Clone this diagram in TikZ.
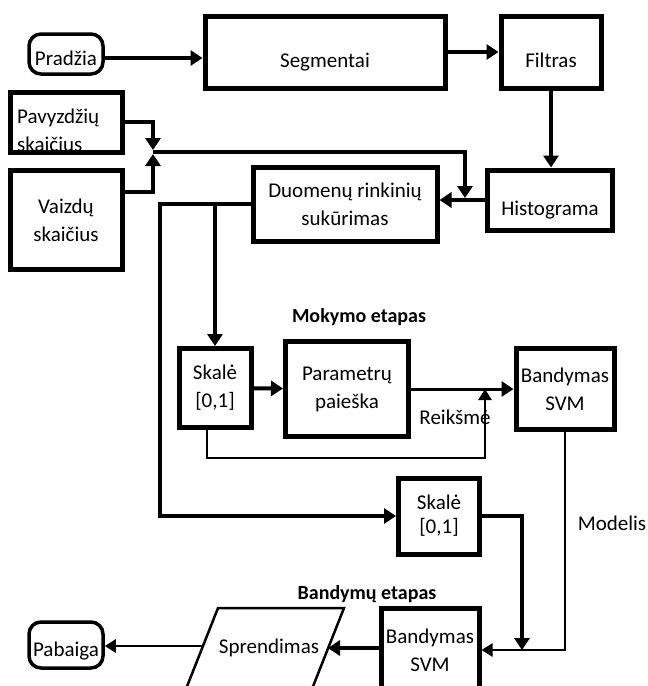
\documentclass[tikz,border=0pt]{standalone}
\usepackage{fontspec}
\setmainfont{Carlito}
\usetikzlibrary{arrows.meta}

\begin{document}
\begin{tikzpicture}[x=1pt, y=-1pt, font=\fontsize{21}{28}\selectfont,
        box/.style={draw, line width=5pt, align=center, inner sep=0pt},
        term/.style={draw, line width=3.5pt, rounded corners=12pt, inner sep=0pt},
        low/.style={text height=#1, text depth=0pt},
        arr/.style={line width=4pt, -{Triangle[length=12pt,width=15pt]}},
        thinarr/.style={line width=2.5pt, -{Triangle[length=11pt,width=13pt]}}]
        \path[use as bounding box, clip] (0,0) rectangle (648,686);

        \node[term, low=22pt, minimum width=74, minimum height=40] (pradzia) at (66,54) {Pradžia};
        \node[box, low=30pt, minimum width=240, minimum height=72] (seg) at (325,52) {Segmentai};
        \node[box, low=30pt, minimum width=100, minimum height=72] (filtras) at (551,52) {Filtras};
        \node[box, low=30pt, minimum width=125, minimum height=60] (hist) at (550,200) {Histograma};
        \node[box, minimum width=184, minimum height=74] (duom) at (345,204) {Duomenų rinkinių\\sukūrimas};
        \node[anchor=north west, align=left, inner sep=0pt] (pavtxt) at (17,109) {Pavyzdžių\\skaičius};
        \node[box, minimum width=112, minimum height=60] (pav) at (66,122) {};
        \node[box, minimum width=112, minimum height=99] (vaizdu) at (66,220) {Vaizdų\\skaičius};
        \node[box, minimum width=72, minimum height=79] (skale1) at (215,388) {Skalė\\{[}0,1]};
        \node[box, minimum width=123, minimum height=95] (param) at (347,389) {Parametrų\\paieška};
        \node[box, minimum width=98, minimum height=81] (band1) at (565,389) {Bandymas\\SVM};
        \node[box, font=\fontsize{21}{24}\selectfont, minimum width=81, minimum height=76] (skale2) at (439,516) {Skalė\\{[}0,1]};
        \node[box, minimum width=98, minimum height=83] (band2) at (430,650) {Bandymas\\SVM};
        \node[inner sep=0pt] (spr) at (269,648) {Sprendimas};
        \draw[line width=2.5pt] (218,608) -- (344,608) -- (310,694) -- (184,694) -- cycle;
        \node[term, low=22pt, minimum width=74, minimum height=46] (pabaiga) at (66,645) {Pabaiga};

        \node[inner sep=0pt, font=\fontsize{20}{24}\selectfont\bfseries] (mokymo) at (359,317) {Mokymo etapas};
        \node[inner sep=0pt, font=\fontsize{20}{24}\selectfont\bfseries] (bandetapas) at (367,594) {Bandymų etapas};
        \node[inner sep=0pt] (reik) at (455,417) {Reikšmė};
        \node[inner sep=0pt] (modelis) at (612,523) {Modelis};

        \coordinate (join) at (153,152);
        \coordinate (tap) at (465,200);
        \coordinate (loop) at (485,389);
        \coordinate (mtap) at (522,650);
        \coordinate (sprL) at (203,646);
        \coordinate (sprR) at (328,648);

        \draw[arr] ([yshift=-4pt]pradzia.east) -- ([yshift=-4pt]pradzia.east -| seg.west);
        \draw[arr] (seg) -- (filtras);
        \draw[arr] (filtras.south) -- (filtras.south |- hist.north);
        \draw[arr] (hist.west) -- (hist.west -| duom.east);
        \draw[arr, shorten >=2pt] (pav.east) -| (join);
        \draw[arr, shorten >=2pt] ([yshift=28pt]vaizdu.east) -| (join);
        \draw[arr, shorten >=2pt] (join) -| (tap);
        \draw[arr] (duom.west) -- ++(-91,0) |- (skale2.west);
        \draw[arr] (skale1.north |- duom.west) -- (skale1.north);
        \draw[arr] (skale1) -- (param);
        \draw[arr, line width=3pt] (param) -- (band1);
        \draw[thinarr] ([xshift=-8pt]skale1.south) -- ++(0,28) -| (loop);
        \draw[thinarr] (band1.south) |- (band2.east);
        \draw[arr] (skale2.east) -| (mtap);
        \draw[arr] (band2.west |- sprR) -- (sprR);
        \draw[thinarr] (sprL) -- (sprL -| pabaiga.east);
    \end{tikzpicture}
\end{document}
